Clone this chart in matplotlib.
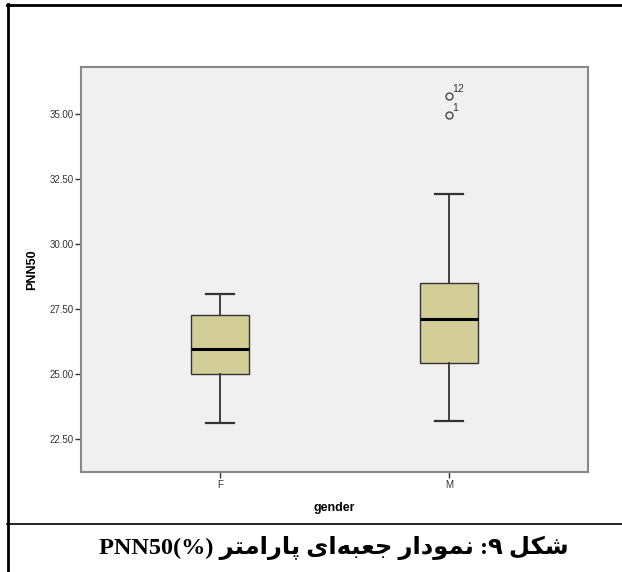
import matplotlib.pyplot as plt
from matplotlib.lines import Line2D

# data
groups = ["F", "M"]
q1 = [25.00, 25.42]
medians = [25.96, 27.12]
q3 = [27.27, 28.50]
whisker_low = [23.12, 23.19]
whisker_high = [28.08, 31.92]
outliers = [[], [34.96, 35.69]]
outlier_ids = [[], ["1", "12"]]

yticks = [22.5, 25.0, 27.5, 30.0, 32.5, 35.0]

# caption in visual order (pre-shaped Persian glyphs, right-to-left reversed)
w_shekl = "\uFEDE\uFB91\uFEB7"
w_nemudar = "\uFEAD\uFE8D\uFEA9\uFEEE\uFEE4\uFEE7"
w_jabei = "\uFBFC\uFE8D\uFEEA\uFE92\uFECC\uFE9F"
w_parametr = "\uFEAE\uFE98\uFEE3\uFE8D\uFEAD\uFE8E\uFB58"
caption = "PNN50(%) " + w_parametr + " " + w_jabei + " " + w_nemudar + " :\u06F9 " + w_shekl

fig = plt.figure(figsize=(6.22, 5.72), dpi=100)
ax = fig.add_axes([81 / 622, 1 - 472 / 572, (588 - 81) / 622, (472 - 67) / 572])
ax.set_facecolor("#f0f0f0")

stats = []
for i in range(len(groups)):
    stats.append({
        "label": groups[i],
        "med": medians[i],
        "q1": q1[i],
        "q3": q3[i],
        "whislo": whisker_low[i],
        "whishi": whisker_high[i],
        "fliers": outliers[i],
    })

pos = [1, 2]
ax.bxp(stats, positions=pos, widths=0.25, patch_artist=True,
       boxprops=dict(facecolor="#d3ce97", edgecolor="#333333", linewidth=1.0),
       medianprops=dict(color="black", linewidth=2.2),
       whiskerprops=dict(color="#333333", linewidth=1.3),
       capprops=dict(color="#333333", linewidth=1.6),
       capwidths=0.125,
       flierprops=dict(marker="o", markerfacecolor="none", markeredgecolor="#444444",
                       markersize=5, markeredgewidth=1.0))

for i in range(len(groups)):
    for v, lab in zip(outliers[i], outlier_ids[i]):
        ax.annotate(lab, (pos[i], v), xytext=(2.5, 3), textcoords="offset points",
                    fontsize=7.5, color="#333333", family="Liberation Sans")

ax.set_xlim(0.393, 2.607)
ax.set_ylim(21.23, 36.81)
ax.set_yticks(yticks)
ax.set_yticklabels([f"{t:.2f}" for t in yticks])
ax.tick_params(axis="both", length=4, width=1, color="#333333", labelsize=7,
               labelcolor="#333333", pad=1.5)
for lab in ax.get_xticklabels() + ax.get_yticklabels():
    lab.set_family("Liberation Sans")

for s in ax.spines.values():
    s.set_color("#888888")
    s.set_linewidth(1.5)

ax.set_xlabel("gender", fontsize=9, fontweight="bold", family="Liberation Sans", labelpad=9)
ax.set_ylabel("PNN50", fontsize=9, fontweight="bold", family="Liberation Sans", labelpad=8)

# outer frame of the table cell
fig.add_artist(Line2D([7 / 622, 1], [1 - 5 / 572, 1 - 5 / 572], color="black", linewidth=2))
fig.add_artist(Line2D([8 / 622, 8 / 622], [0, 1 - 4 / 572], color="black", linewidth=2))
fig.add_artist(Line2D([7 / 622, 1], [1 - 524 / 572, 1 - 524 / 572], color="black", linewidth=1.2))

fig.text(334 / 622, 1 - 548 / 572, caption, ha="center", va="center", fontsize=17.5,
         fontweight="bold", family=["Liberation Serif", "DejaVu Sans"])

fig.savefig("out.png", dpi=100)
